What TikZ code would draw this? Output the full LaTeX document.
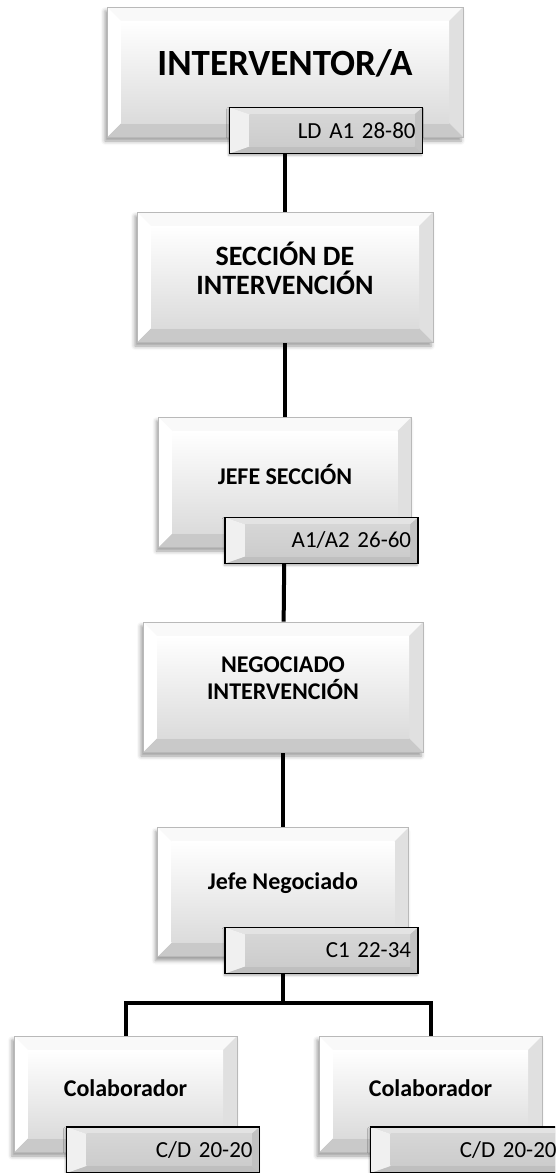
\documentclass[tikz,border=0pt]{standalone}
\usepackage{fontspec}
\setmainfont{Carlito}
\usetikzlibrary{shadows.blur, backgrounds}

\tikzstyle{cargo} = [rectangle, draw=gray!55, line width=0.8pt, inner sep=0pt, minimum height=130pt, fill=white,
  blur shadow={shadow xshift=-2pt, shadow yshift=-4pt, shadow blur radius=4pt, shadow opacity=40},
  path picture={
    \coordinate (a) at (path picture bounding box.north west);
    \coordinate (b) at (path picture bounding box.north east);
    \coordinate (c) at (path picture bounding box.south east);
    \coordinate (d) at (path picture bounding box.south west);
    \fill[gray!5]  (a) -- (b) -- ([shift={(-14pt,-14pt)}]b) -- ([shift={(14pt,-14pt)}]a) -- cycle;
    \fill[gray!24] (b) -- (c) -- ([shift={(-14pt,14pt)}]c) -- ([shift={(-14pt,-14pt)}]b) -- cycle;
    \fill[gray!42] (c) -- (d) -- ([shift={(14pt,14pt)}]d) -- ([shift={(-14pt,14pt)}]c) -- cycle;
    \fill[white]   (d) -- (a) -- ([shift={(14pt,-14pt)}]a) -- ([shift={(14pt,14pt)}]d) -- cycle;
    \shade[top color=white, bottom color=gray!28] ([shift={(14pt,-14pt)}]a) rectangle ([shift={(-14pt,14pt)}]c);
  }]
\tikzstyle{grado} = [rectangle, draw=black, line width=1.6pt, minimum height=46pt, text width=179pt, align=right,
  inner xsep=7pt, inner ysep=0pt, font=\fontsize{23}{26}\selectfont, fill=gray!35,
  blur shadow={shadow xshift=-1pt, shadow yshift=-2pt, shadow blur radius=2pt, shadow opacity=30},
  path picture={
    \coordinate (a) at (path picture bounding box.north west);
    \coordinate (b) at (path picture bounding box.north east);
    \coordinate (c) at (path picture bounding box.south east);
    \coordinate (d) at (path picture bounding box.south west);
    \fill[gray!22] (a) -- (b) -- ([shift={(-8pt,-7pt)}]b) -- ([shift={(20pt,-7pt)}]a) -- cycle;
    \fill[gray!48] (b) -- (c) -- ([shift={(-8pt,7pt)}]c) -- ([shift={(-8pt,-7pt)}]b) -- cycle;
    \fill[gray!50] (c) -- (d) -- ([shift={(20pt,7pt)}]d) -- ([shift={(-8pt,7pt)}]c) -- cycle;
    \fill[gray!12] (d) -- (a) -- ([shift={(20pt,-7pt)}]a) -- ([shift={(20pt,7pt)}]d) -- cycle;
    \shade[top color=gray!32, bottom color=gray!40] ([shift={(20pt,-7pt)}]a) rectangle ([shift={(-8pt,7pt)}]c);
  }]
\tikzstyle{rotulo} = [align=center, yshift=9pt, font=\bfseries\fontsize{24}{27}\selectfont]
\tikzstyle{line} = [draw, line width=4pt]

\begin{document}
\begin{tikzpicture}[node distance=205pt]
\useasboundingbox (0,0) rectangle (555pt,-1173pt);
\clip (0,0) rectangle (555pt,-1173pt);

\node [cargo, minimum width=356pt, label={[rotulo, font=\bfseries\fontsize{37}{40}\selectfont]center:INTERVENTOR/A}] (interv) at (285pt,-72pt) {};
\node [grado, anchor=east, xshift=-40pt, yshift=7pt] (gradoint) at (interv.south east) {LD A1 28-80};

\node [cargo, minimum width=296pt, below of=interv, label={[rotulo, font=\bfseries\fontsize{28}{29}\selectfont]center:SECCIÓN DE\\INTERVENCIÓN}] (secc) {};

\node [cargo, minimum width=253pt, below of=secc, label={[rotulo, yshift=-1pt]center:JEFE SECCIÓN}] (jefesec) {};
\node [grado, anchor=east, xshift=7pt, yshift=7pt] (gradojs) at (jefesec.south east) {A1/A2 26-60};

\node [cargo, minimum width=280pt, below of=jefesec, xshift=-2pt, label={[rotulo]center:NEGOCIADO\\INTERVENCIÓN}] (negoc) {};

\node [cargo, minimum width=251pt, minimum height=129pt, below of=negoc, label={[rotulo]center:Jefe Negociado}] (jefeneg) {};
\node [grado, anchor=east, xshift=10pt, yshift=6.5pt] (gradojn) at (jefeneg.south east) {C1 22-34};
\coordinate (bif) at ([yshift=-46pt]jefeneg.south);

\node [cargo, minimum width=223pt, minimum height=116pt, below of=jefeneg, xshift=-157.5pt, yshift=3pt, label={[rotulo, yshift=-3.5pt]center:Colaborador}] (colab1) {};
\node [grado, anchor=east, xshift=23pt, yshift=2.5pt] (gradoc1) at (colab1.south east) {C/D 20-20};

\node [cargo, minimum width=223pt, minimum height=116pt, below of=jefeneg, xshift=147.5pt, yshift=3pt, label={[rotulo, yshift=-3.5pt]center:Colaborador}] (colab2) {};
\node [grado, anchor=east, xshift=22pt, yshift=2.5pt] (gradoc2) at (colab2.south east) {C/D 20-20};

\begin{pgfonlayer}{background}
\path [line] (interv) -- (secc);
\path [line] (secc) -- (jefesec);
\path [line] (jefesec) -- (negoc);
\path [line] (negoc) -- (jefeneg);
\path [line] (jefeneg) -- (bif) -| (colab1);
\path [line] (bif) -| (colab2);
\end{pgfonlayer}

\end{tikzpicture}
\end{document}
